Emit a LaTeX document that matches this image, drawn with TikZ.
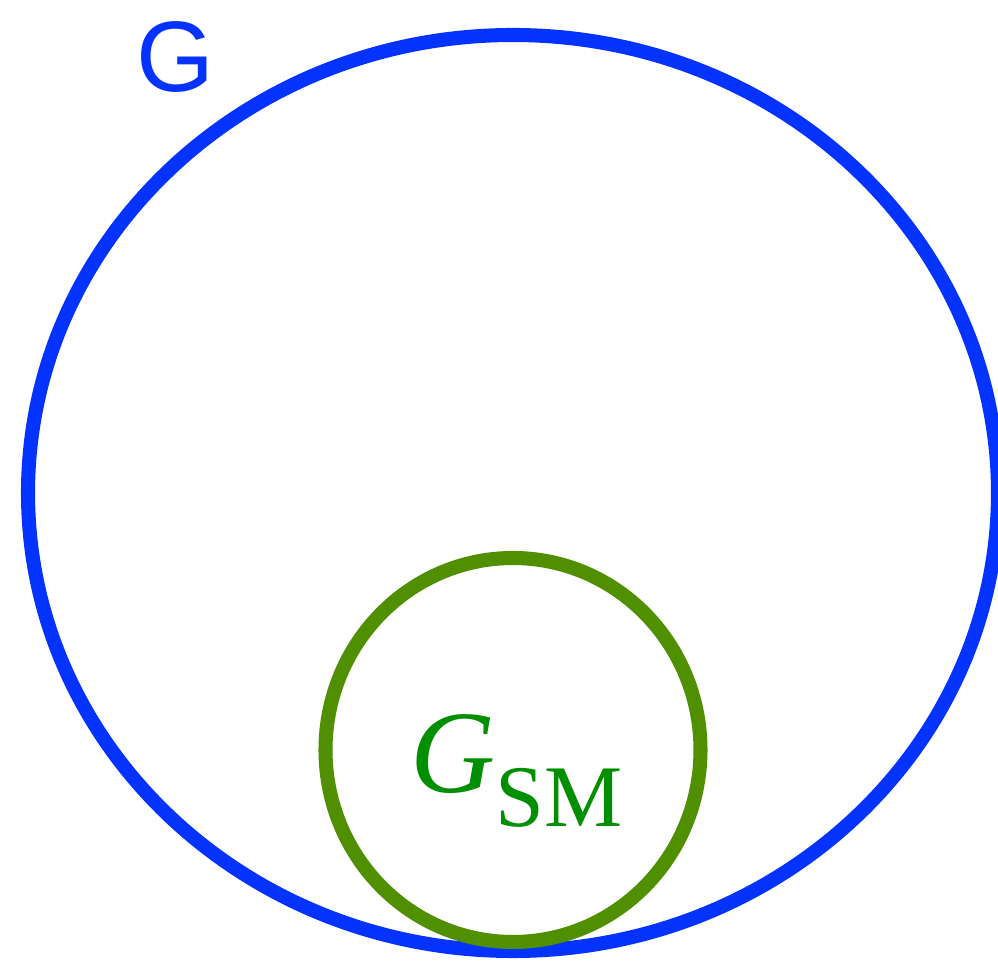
\documentclass[tikz,border=0pt]{standalone}
\usepackage{fontspec}
\setmainfont{Liberation Serif}
\newfontfamily\etiquettesans{Liberation Sans}
\definecolor{bleuG}{HTML}{0433FF}
\definecolor{vertSM}{HTML}{4F8F00}
\definecolor{texteSM}{HTML}{008F00}
\begin{document}
\begin{tikzpicture}
        \useasboundingbox (0,0) rectangle (9.98,-9.62);

        % Le grand ensemble G
        \draw[bleuG, line width=4pt] (5.13,-4.93) ellipse (4.85 and 4.58);
        \node[bleuG, inner sep=0pt] (etiqG) at (1.75,-0.57) {\etiquettesans\fontsize{28.5}{30}\selectfont G};

        % Le sous-ensemble G_SM
        \draw[vertSM, line width=4pt] (5.13,-7.50) ellipse (1.875 and 1.92);
        \node[texteSM, inner sep=0pt, anchor=base west] (etiqSM) at (4.10,-7.93)
            {{\fontsize{33.5}{36}\selectfont\itshape G}\raisebox{-0.34cm}{\fontsize{25}{28}\selectfont SM}};

    \end{tikzpicture}
\end{document}
